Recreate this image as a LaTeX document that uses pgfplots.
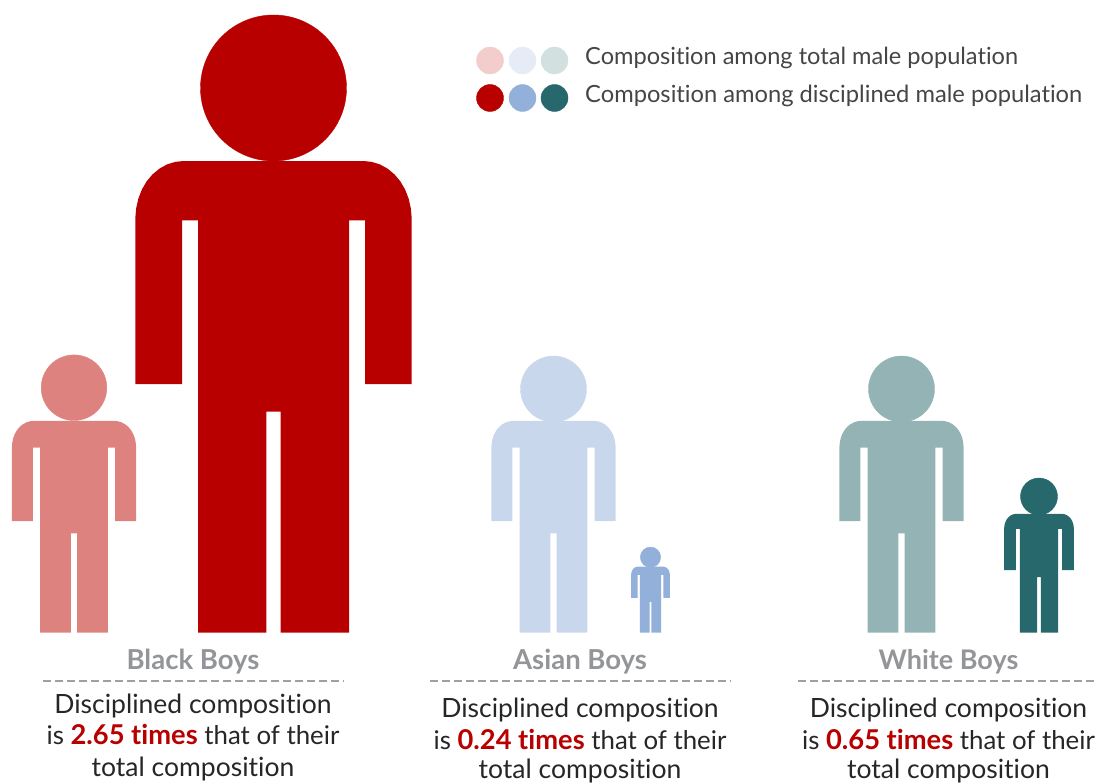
\documentclass[border=0pt]{standalone}
\usepackage{pgfplots}
\usepackage{pgfplotstable}
\usepackage{fontspec}
\setmainfont{Lato}[Ligatures=NoCommon]
\pgfplotsset{compat=1.18}

\definecolor{blackdisc}{HTML}{B90000}
\definecolor{blacktotal}{HTML}{DE8280}
\definecolor{asiandisc}{HTML}{93B0DA}
\definecolor{asiantotal}{HTML}{C9D7ED}
\definecolor{whitedisc}{HTML}{27686C}
\definecolor{whitetotal}{HTML}{93B3B5}
\definecolor{legblack}{HTML}{F3CCCC}
\definecolor{legasian}{HTML}{E6ECF6}
\definecolor{legwhite}{HTML}{D2E0E0}
\definecolor{captiongray}{HTML}{939598}
\definecolor{bodytext}{HTML}{262626}
\definecolor{legtext}{HTML}{454545}

% Outline of the figure's body: x from its centre line, y above the ground.
\pgfplotstableread{
x y
-75.5 0
-75.5 412.4
-91.5 412.4
-91.5 248.7
-138.2 248.7
-138.2 414.7
-137.3 424.6
-135.1 434.2
-131.6 443.2
-126.8 451.4
-120.9 458.4
-114.0 464.1
-106.4 468.3
-98.3 470.8
-90.0 471.7
90.0 471.7
98.3 470.8
106.4 468.3
114.0 464.1
120.9 458.4
126.8 451.4
131.6 443.2
135.1 434.2
137.3 424.6
138.2 414.7
138.2 248.7
91.5 248.7
91.5 412.4
75.5 412.4
75.5 0
7.1 0
7.1 221
-7.1 221
-7.1 0
-75.5 0
}\bodyoutline

% #1 centre x, #2 scale, #3 colour, #4 head radius, #5 head centre y
\newcommand{\person}[5]{%
  \addplot[fill=#3, draw=none, forget plot] table[
    x expr={#1+#2*\thisrow{x}},
    y expr={632.7-#2*\thisrow{y}}
  ] {\bodyoutline} -- cycle;
  \addplot[only marks, mark=*, mark size=#4pt, color=#3, mark options={draw=none, fill=#3}, forget plot]
    coordinates {(#1,#5)};
}
% #1 colour, #2 x, #3 y
\newcommand{\legdot}[3]{%
  \addplot[only marks, mark=*, mark size=13.5pt, color=#1, mark options={draw=none, fill=#1}, forget plot]
    coordinates {(#2,#3)};
}
% #1 x of centre, #2 #3 #4 baselines, #5 factor text
\newcommand{\groupnote}[5]{%
  \node[anchor=base, text=bodytext, font=\fontsize{26.5}{26.5}\selectfont, inner sep=0pt] at (axis cs:#1,#2) {Disciplined composition};
  \node[anchor=base, text=bodytext, font=\fontsize{25.8}{26.5}\selectfont, inner sep=0pt] at (axis cs:#1,#3) {is {\fontsize{27.3}{27.3}\selectfont\textcolor{blackdisc}{\textbf{#5 times}}} that of their};
  \node[anchor=base, text=bodytext, font=\fontsize{26.5}{26.5}\selectfont, inner sep=0pt] at (axis cs:#1,#4) {total composition};
}

\begin{document}
\begin{tikzpicture}
\path[use as bounding box] (0,0) rectangle (1096pt,784pt);
\begin{axis}[
  at={(0,0)}, anchor=south west,
  scale only axis, width=1096pt, height=784pt,
  xmin=0, xmax=1096, ymin=0, ymax=784, y dir=reverse,
  hide axis, clip=true
]
% Figures
\person{74}{0.449}{blacktotal}{32.8}{387.7}
\person{273.5}{1}{blackdisc}{73}{88}
\person{553.5}{0.449}{asiantotal}{33}{389}
\person{650.5}{0.14}{asiandisc}{10.2}{557.2}
\person{901.5}{0.449}{whitetotal}{33}{389}
\person{1039}{0.252}{whitedisc}{18.5}{496.5}

% Legend dots
\legdot{legblack}{490}{60.5}
\legdot{legasian}{522.5}{60.5}
\legdot{legwhite}{554.5}{60.5}
\legdot{blackdisc}{490}{98}
\legdot{asiandisc}{522.5}{98}
\legdot{whitedisc}{554.5}{98}
\node[anchor=base west, text=legtext, font=\fontsize{23.6}{24}\selectfont, inner sep=0pt] at (axis cs:585,65) {Composition among total male population};
\node[anchor=base west, text=legtext, font=\fontsize{23.7}{24}\selectfont, inner sep=0pt] at (axis cs:585,102.5) {Composition among disciplined male population};

% Group captions and rules
\addplot[captiongray!90, line width=2pt, dash pattern=on 7.5pt off 4.5pt, forget plot] coordinates {(43,680.5) (344,680.5)};
\addplot[captiongray!90, line width=2pt, dash pattern=on 7.5pt off 4.5pt, forget plot] coordinates {(430,680.5) (731,680.5)};
\addplot[captiongray!90, line width=2pt, dash pattern=on 7.5pt off 4.5pt, forget plot] coordinates {(798,680.5) (1096,680.5)};
\node[anchor=base, text=captiongray, font=\fontsize{27.5}{27.5}\selectfont\bfseries, inner sep=0pt] at (axis cs:193,669) {Black Boys};
\node[anchor=base, text=captiongray, font=\fontsize{27.5}{27.5}\selectfont\bfseries, inner sep=0pt] at (axis cs:580,669) {Asian Boys};
\node[anchor=base, text=captiongray, font=\fontsize{27}{27}\selectfont\bfseries, inner sep=0pt] at (axis cs:948.5,669) {White Boys};

\groupnote{193}{713}{744.5}{776}{2.65}
\groupnote{580}{717.5}{749}{778}{0.24}
\groupnote{948.5}{717.5}{749}{778}{0.65}
\end{axis}
\end{tikzpicture}
\end{document}
